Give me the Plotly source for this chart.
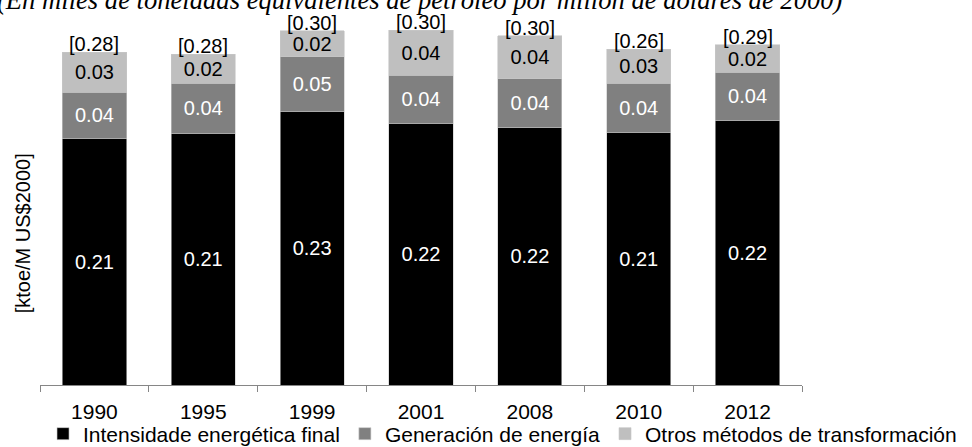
import plotly.graph_objects as go

# Intensidad energética por año (ktoe por millón de US$ de 2000)
years = ["1990", "1995", "1999", "2001", "2008", "2010", "2012"]
final_intensity = [0.2084, 0.2127, 0.2312, 0.2211, 0.2172, 0.2135, 0.2236]
power_generation = [0.0388, 0.0422, 0.0464, 0.0405, 0.0418, 0.0414, 0.0405]
other_transformation = [0.0338, 0.0245, 0.0219, 0.0380, 0.0362, 0.0287, 0.0236]
total_labels = ["[0.28]", "[0.28]", "[0.30]", "[0.30]", "[0.30]", "[0.26]", "[0.29]"]

series = [
    ("Intensidade energética final", final_intensity, "#000000", "#ffffff"),
    ("Generación de energía", power_generation, "#808080", "#ffffff"),
    ("Otros métodos de transformación", other_transformation, "#bfbfbf", "#000000"),
]

font_family = "Liberation Sans, Arial, sans-serif"

fig = go.Figure()
for name, values, color, text_color in series:
    fig.add_trace(go.Bar(
        name=name,
        x=years,
        y=values,
        marker=dict(color=color, line=dict(color="#c8c8c8", width=0.6)),
        text=[f"{v:.2f}" for v in values],
        textposition="inside",
        insidetextanchor="middle",
        textangle=0,
        constraintext="none",
        insidetextfont=dict(family=font_family, size=20, color=text_color),
        cliponaxis=False,
        hoverinfo="skip",
    ))

# Stack totals above each bar (category index positions)
totals = [a + b + c for a, b, c in zip(final_intensity, power_generation, other_transformation)]
for i, (total, label) in enumerate(zip(totals, total_labels)):
    fig.add_annotation(
        x=i, y=total, text=label, showarrow=False,
        xanchor="center", yanchor="bottom", yshift=-5,
        font=dict(family=font_family, size=20, color="#000000"),
    )

# Subtitle (units)
fig.add_annotation(
    xref="paper", yref="paper", x=0.499, y=1.036,
    text="(En miles de toneladas equivalentes de petróleo por millón de dólares de 2000)",
    showarrow=False, xanchor="center", yanchor="bottom",
    font=dict(family="Liberation Serif, Times New Roman, serif", size=26.6,
              color="#000000", style="italic"),
)

# Vertical axis title
fig.add_annotation(
    xref="paper", yref="paper", x=-0.022, y=0.428,
    text="[ktoe/M US$2000]", textangle=-90, showarrow=False,
    xanchor="center", yanchor="middle",
    font=dict(family=font_family, size=20, color="#000000"),
)

fig.update_layout(
    width=972, height=447,
    margin=dict(l=40, r=170, t=30, b=62, autoexpand=False),
    barmode="stack",
    bargap=0.41,
    plot_bgcolor="#ffffff",
    paper_bgcolor="#ffffff",
    font=dict(family=font_family, color="#000000"),
    showlegend=True,
    legend=dict(
        orientation="h",
        xref="paper", yref="paper",
        x=1.21, xanchor="right",
        y=-0.138, yanchor="middle",
        font=dict(family=font_family, size=21, color="#000000"),
        traceorder="normal",
        bgcolor="rgba(0,0,0,0)",
    ),
    xaxis=dict(
        type="category",
        range=[-0.5, 6.5],
        showline=True, linecolor="#868686", linewidth=1.2,
        ticks="outside", tickson="boundaries", ticklen=6, tickcolor="#868686",
        tickwidth=1.2,
        tickfont=dict(family=font_family, size=21, color="#000000"),
        ticklabelstandoff=8,
        showgrid=False, zeroline=False,
    ),
    yaxis=dict(
        range=[0, 0.30],
        visible=False,
        showgrid=False, zeroline=False,
    ),
)

fig.write_html("out.html")
